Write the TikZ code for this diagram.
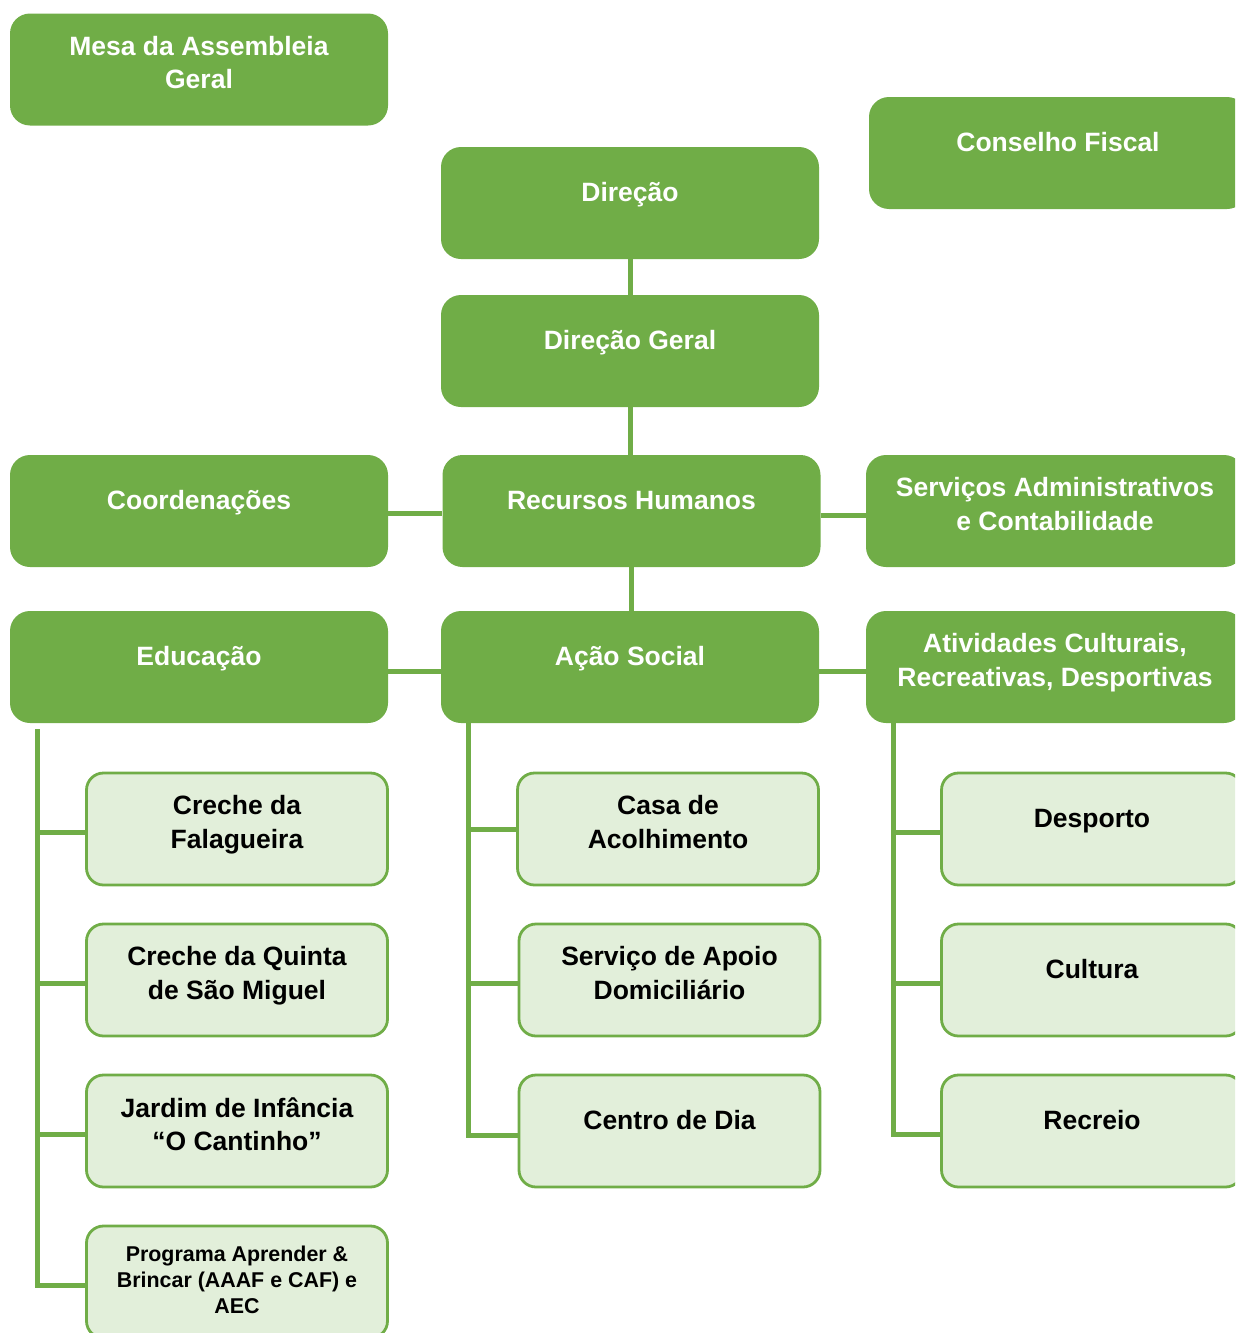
\documentclass[tikz,border=0pt]{standalone}
\usepackage{fontspec}
\setmainfont{Liberation Sans}
\definecolor{orgGreen}{RGB}{112,173,71}
\definecolor{orgLight}{RGB}{226,239,218}

\begin{document}
\begin{tikzpicture}[x=1pt,y=-1pt,
  dkbox/.style={fill=orgGreen, draw=none, rounded corners=20pt, minimum width=378pt, minimum height=112pt, inner sep=0pt},
  ltbox/.style={fill=orgLight, draw=orgGreen, line width=2.8pt, rounded corners=17pt, minimum width=301pt, minimum height=112pt, inner sep=0pt},
  dktxt/.style={text=white, font=\bfseries\fontsize{26.5}{33.5}\selectfont, align=center, inner sep=0pt, anchor=north, execute at begin node={\rule{0pt}{24pt}}},
  lttxt/.style={dktxt, text=black},
  smtxt/.style={lttxt, font=\bfseries\fontsize{21.4}{26}\selectfont},
  conn/.style={draw=orgGreen, line width=5pt}]
\useasboundingbox (0,0) rectangle (1235,1333);
\clip (0,0) rectangle (1235,1333);

%Top boxes
\node[dkbox] (mesa) at (199,69.5) {};
\node[dktxt] (mesa-t) at ([yshift=33.5pt]mesa.center) {Mesa da Assembleia\\Geral};
\node[dkbox] (cons) at (1058,153) {};
\node[dktxt] (cons-t) at ([yshift=25.5pt]cons.center) {Conselho Fiscal};
\node[dkbox] (dir) at (630,203) {};
\node[dktxt] (dir-t) at ([yshift=25.5pt]dir.center) {Direção};
\node[dkbox] (dirg) at (630,351) {};
\node[dktxt] (dirg-t) at ([yshift=25.5pt]dirg.center) {Direção Geral};

%Middle row
\node[dkbox] (coord) at (199,511) {};
\node[dktxt] (coord-t) at ([yshift=25.5pt]coord.center) {Coordenações};
\node[dkbox] (rh) at (631.5,511) {};
\node[dktxt] (rh-t) at ([yshift=25.5pt]rh.center) {Recursos Humanos};
\node[dkbox] (serv) at (1055,511) {};
\node[dktxt] (serv-t) at ([yshift=33.5pt]serv.center) {Serviços Administrativos\\e Contabilidade};

%Areas
\node[dkbox] (edu) at (199,667) {};
\node[dktxt] (edu-t) at ([yshift=25.5pt]edu.center) {Educação};
\node[dkbox] (acao) at (630,667) {};
\node[dktxt] (acao-t) at ([yshift=25.5pt]acao.center) {Ação Social};
\node[dkbox] (ativ) at (1055,667) {};
\node[dktxt] (ativ-t) at ([yshift=33.5pt]ativ.center) {Atividades Culturais,\\Recreativas, Desportivas};

%Educação
\node[ltbox] (cr1) at (237,829) {};
\node[lttxt] (cr1-t) at ([yshift=33.5pt]cr1.center) {Creche da\\Falagueira};
\node[ltbox] (cr2) at (237,980) {};
\node[lttxt] (cr2-t) at ([yshift=33.5pt]cr2.center) {Creche da Quinta\\de São Miguel};
\node[ltbox] (jard) at (237,1131) {};
\node[lttxt] (jard-t) at ([yshift=33.5pt]jard.center) {Jardim de Infância\\“O Cantinho”};
\node[ltbox] (prog) at (237,1282) {};
\node[smtxt] (prog-t) at ([yshift=36pt]prog.center) {Programa Aprender \&\\Brincar (AAAF e CAF) e\\AEC};

%Ação Social
\node[ltbox] (casa) at (668,829) {};
\node[lttxt] (casa-t) at ([yshift=33.5pt]casa.center) {Casa de\\Acolhimento};
\node[ltbox] (sad) at (669.5,980) {};
\node[lttxt] (sad-t) at ([yshift=33.5pt]sad.center) {Serviço de Apoio\\Domiciliário};
\node[ltbox] (cdia) at (669.5,1131) {};
\node[lttxt] (cdia-t) at ([yshift=25.5pt]cdia.center) {Centro de Dia};

%Atividades
\node[ltbox] (desp) at (1092,829) {};
\node[lttxt] (desp-t) at ([yshift=25.5pt]desp.center) {Desporto};
\node[ltbox] (cult) at (1092,980) {};
\node[lttxt] (cult-t) at ([yshift=25.5pt]cult.center) {Cultura};
\node[ltbox] (recr) at (1092,1131) {};
\node[lttxt] (recr-t) at ([yshift=25.5pt]recr.center) {Recreio};

%Straight Lines
\draw[conn] (dir.south) -- (dirg.north);
\draw[conn] (dirg.south) -- (dirg.south |- rh.north);
\draw[conn] (rh.south) -- (rh.south |- acao.north);
\draw[conn] ([yshift=-2.5pt]coord.east) -- ([yshift=-2.5pt]rh.west);
\draw[conn] ([yshift=-4pt]rh.east) -- ([yshift=-4pt]serv.west);
\draw[conn] ([yshift=-4pt]edu.east) -- ([yshift=-4pt]acao.west);
\draw[conn] ([yshift=-4pt]acao.east) -- ([yshift=-4pt]ativ.west);

%Branches
\coordinate (edu-bus) at (37,729);
\draw[conn] (edu-bus) |- ([yshift=-3pt]cr1.west);
\draw[conn] (edu-bus) |- ([yshift=-3pt]cr2.west);
\draw[conn] (edu-bus) |- ([yshift=-3pt]jard.west);
\draw[conn] (edu-bus) |- ([yshift=-3pt]prog.west);
\coordinate (acao-bus) at (468,723);
\draw[conn] (acao-bus) |- (casa.west);
\draw[conn] (acao-bus) |- ([yshift=-3pt]sad.west);
\draw[conn] (acao-bus) |- ([yshift=-4pt]cdia.west);
\coordinate (ativ-bus) at (893,723);
\draw[conn] (ativ-bus) |- ([yshift=-3pt]desp.west);
\draw[conn] (ativ-bus) |- ([yshift=-3pt]cult.west);
\draw[conn] (ativ-bus) |- ([yshift=-3pt]recr.west);

\end{tikzpicture}
\end{document}
